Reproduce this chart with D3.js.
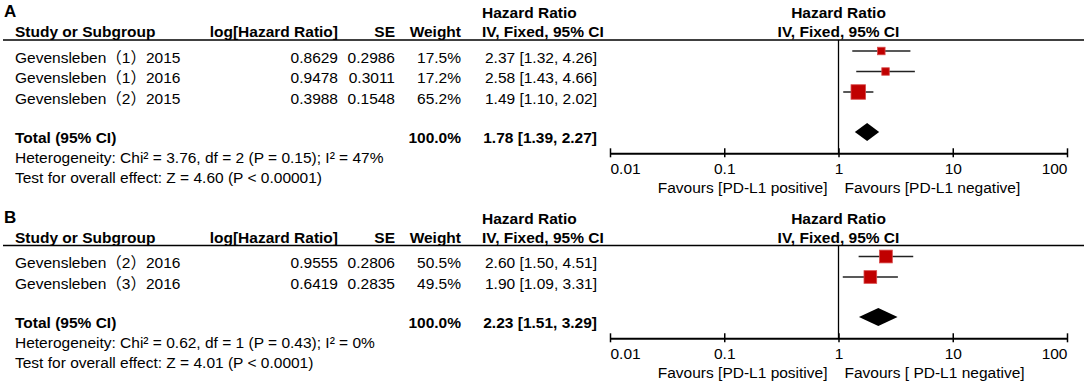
<!DOCTYPE html>
<html>
<head>
<meta charset="utf-8">
<script src="https://cdn.jsdelivr.net/npm/d3@7"></script>
<style>
  body { margin: 0; background: #fff; }
  svg { display: block; font-family: "Liberation Sans", Arial, "Noto Sans CJK SC", sans-serif; font-size: 15.5px; }
</style>
</head>
<body>
<div id="chart"></div>
<script>
// panel A data
const studiesA = ["Gevensleben（1）2015", "Gevensleben（1）2016", "Gevensleben（2）2015"];
const logHrA = [0.8629, 0.9478, 0.3988];
const seA = [0.2986, 0.3011, 0.1548];
const weightA = [17.5, 17.2, 65.2];
const hrA = [2.37, 2.58, 1.49];
const lowA = [1.32, 1.43, 1.10];
const highA = [4.26, 4.66, 2.02];
const totalA = [1.78, 1.39, 2.27];
const hetA = "Heterogeneity: Chi² = 3.76, df = 2 (P = 0.15); I² = 47%";
const testA = "Test for overall effect: Z = 4.60 (P < 0.00001)";
const favoursA = ["Favours [PD-L1 positive]", "Favours [PD-L1 negative]"];

// panel B data
const studiesB = ["Gevensleben（2）2016", "Gevensleben（3）2016"];
const logHrB = [0.9555, 0.6419];
const seB = [0.2806, 0.2835];
const weightB = [50.5, 49.5];
const hrB = [2.60, 1.90];
const lowB = [1.50, 1.09];
const highB = [4.51, 3.31];
const totalB = [2.23, 1.51, 3.29];
const hetB = "Heterogeneity: Chi² = 0.62, df = 1 (P = 0.43); I² = 0%";
const testB = "Test for overall effect: Z = 4.01 (P < 0.0001)";
const favoursB = ["Favours [PD-L1 positive]", "Favours [ PD-L1 negative]"];

// axis ticks
const tickValues = [0.01, 0.1, 1, 10, 100];
const tickLabels = ["0.01", "0.1", "1", "10", "100"];

const WIDTH = 1084;
const HEIGHT = 384;
const ROW_H = 20.5;

const svg = d3.select("#chart").append("svg")
  .attr("width", WIDTH)
  .attr("height", HEIGHT);

const x = d3.scaleLog().domain([0.01, 100]).range([610, 1067]);
const size = d3.scaleSqrt().domain([0, 100]).range([0, 18]);
const f2 = d3.format(".2f");
const f4 = d3.format(".4f");
const f1 = d3.format(".1f");

function text(g, str, px, py, anchor, bold) {
  return g.append("text")
    .attr("x", px)
    .attr("y", py)
    .attr("text-anchor", anchor || "start")
    .attr("font-weight", bold ? "bold" : null)
    .attr("fill", "#000")
    .text(str);
}

function drawPanel(p) {
  const g = svg.append("g").attr("transform", `translate(0,${p.top})`);
  const n = p.studies.length;

  // panel letter
  text(g, p.letter, 4, 17, "start", true).attr("font-size", 17);

  // headers
  text(g, "Hazard Ratio", 482, 18, "start", true);
  text(g, "Hazard Ratio", x(1), 18, "middle", true);
  text(g, "Study or Subgroup", 15, 37, "start", true);
  text(g, "log[Hazard Ratio]", 338, 37, "end", true);
  text(g, "SE", 395, 37, "end", true);
  text(g, "Weight", 461, 37, "end", true);
  text(g, "IV, Fixed, 95% CI", 482, 37, "start", true);
  text(g, "IV, Fixed, 95% CI", x(1), 37, "middle", true);

  g.append("line")
    .attr("x1", 3).attr("x2", WIDTH)
    .attr("y1", 40).attr("y2", 40)
    .attr("stroke", "#000").attr("stroke-width", 1.5);

  const rowY = (i) => 51 + ROW_H * i;
  const totalC = 51 + ROW_H * (n + 1) - 1;
  const axisY = totalC + 21.3;

  // line of no effect
  g.append("line")
    .attr("x1", x(1)).attr("x2", x(1))
    .attr("y1", 40).attr("y2", axisY)
    .attr("stroke", "#000").attr("stroke-width", 1.3);

  // study rows
  const rows = g.selectAll("g.row")
    .data(d3.range(n))
    .join("g")
    .attr("class", "row");

  rows.each(function (i) {
    const r = d3.select(this);
    const base = rowY(i) + 11.5;
    text(r, p.studies[i], 15, base);
    text(r, f4(p.logHr[i]), 338, base, "end");
    text(r, f4(p.se[i]), 395, base, "end");
    text(r, f1(p.weight[i]) + "%", 461, base, "end");
    text(r, `${f2(p.hr[i])} [${f2(p.low[i])}, ${f2(p.high[i])}]`, 597, base, "end");

    r.append("line")
      .attr("x1", x(p.low[i])).attr("x2", x(p.high[i]))
      .attr("y1", rowY(i)).attr("y2", rowY(i))
      .attr("stroke", "#222").attr("stroke-width", 1.5);

    const s = size(p.weight[i]);
    r.append("rect")
      .attr("x", x(p.hr[i]) - s / 2)
      .attr("y", rowY(i) - s / 2)
      .attr("width", s).attr("height", s)
      .attr("fill", "#c00000")
      .attr("stroke", "#d84a4a").attr("stroke-width", 0.8);
  });

  // total row
  const tBase = totalC + 10.5;
  text(g, "Total (95% CI)", 15, tBase, "start", true);
  text(g, "100.0%", 461, tBase, "end", true);
  text(g, `${f2(p.total[0])} [${f2(p.total[1])}, ${f2(p.total[2])}]`, 597, tBase, "end", true);

  const dh = 9;
  g.append("path")
    .attr("d", d3.line()([
      [x(p.total[1]), totalC],
      [x(p.total[0]), totalC - dh],
      [x(p.total[2]), totalC],
      [x(p.total[0]), totalC + dh],
    ]) + "Z")
    .attr("fill", "#000");

  text(g, p.het, 15, tBase + 20);
  text(g, p.test, 15, tBase + 40);

  // axis
  const ax = g.append("g")
    .attr("transform", `translate(0,${axisY})`)
    .call(
      d3.axisBottom(x)
        .tickValues(tickValues)
        .tickFormat((d, i) => tickLabels[i])
        .tickSizeOuter(0)
    );
  ax.select(".domain").attr("stroke", "#000").attr("stroke-width", 2);
  ax.selectAll(".tick line")
    .attr("y1", -5).attr("y2", 4)
    .attr("stroke", "#000").attr("stroke-width", 1.5);
  ax.selectAll(".tick text")
    .attr("y", 20.5).attr("dy", null)
    .attr("fill", "#000")
    .attr("font-size", "15.5px")
    .attr("font-family", null)
    .attr("text-anchor", (d, i) => (i === 0 ? "start" : i === tickValues.length - 1 ? "end" : "middle"));

  text(g, p.favours[0], x(1) - 11, axisY + 39.5, "end");
  text(g, p.favours[1], x(1) + 6, axisY + 39.5, "start");
}

drawPanel({
  top: 0, letter: "A",
  studies: studiesA, logHr: logHrA, se: seA, weight: weightA,
  hr: hrA, low: lowA, high: highA, total: totalA,
  het: hetA, test: testA, favours: favoursA,
});

drawPanel({
  top: 205.5, letter: "B",
  studies: studiesB, logHr: logHrB, se: seB, weight: weightB,
  hr: hrB, low: lowB, high: highB, total: totalB,
  het: hetB, test: testB, favours: favoursB,
});
</script>
</body>
</html>
